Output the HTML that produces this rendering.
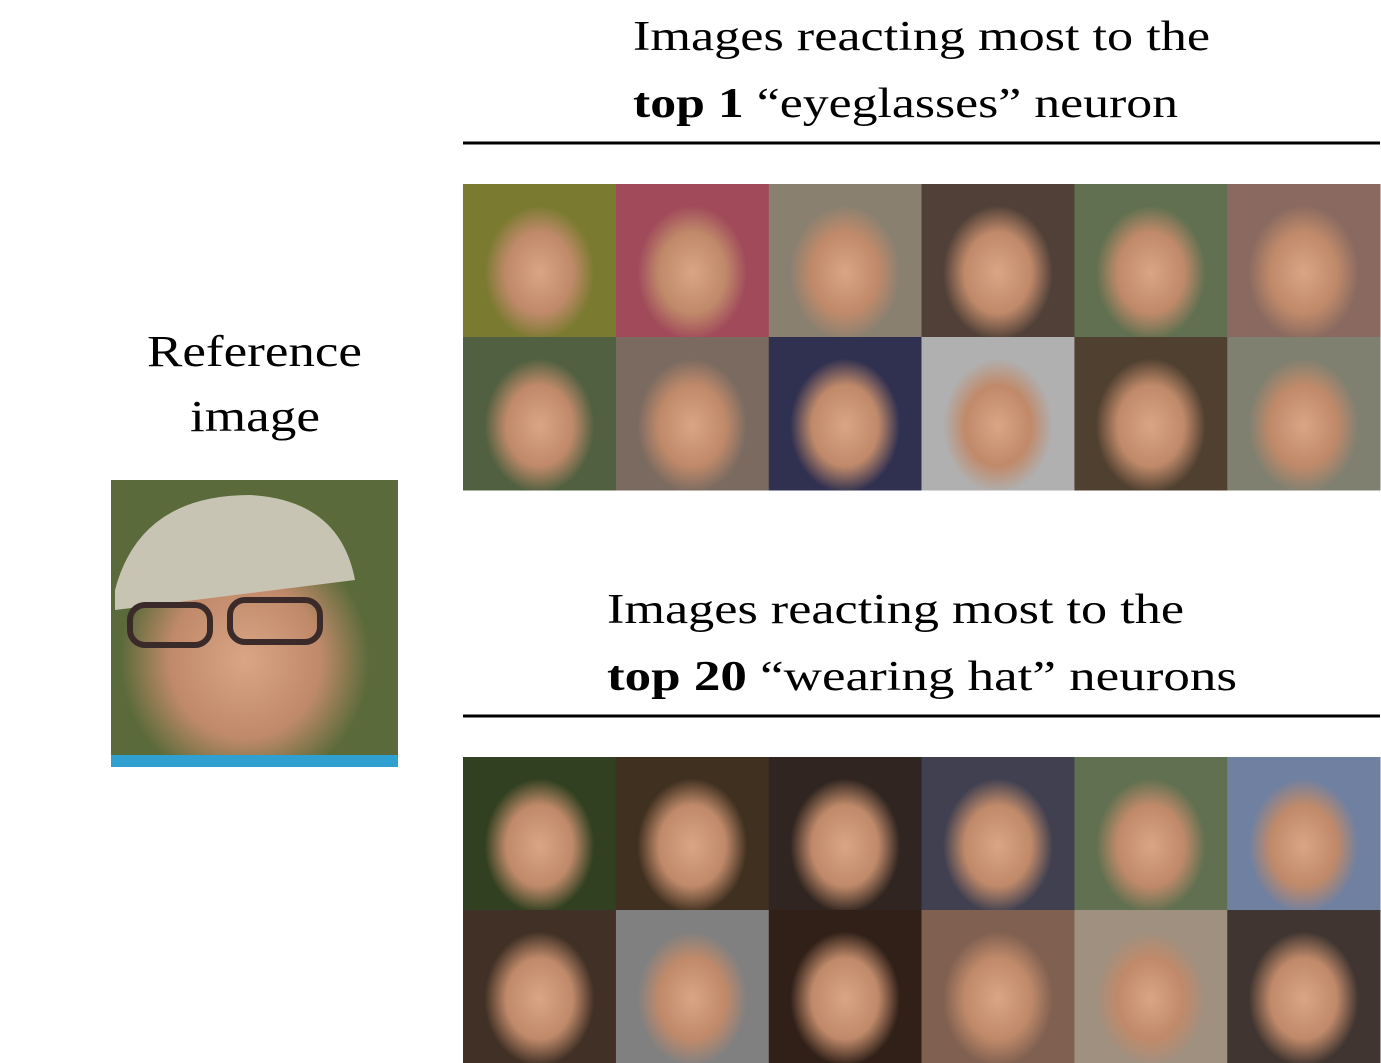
<!DOCTYPE html>
<html><head><meta charset="utf-8"><style>
html,body{margin:0;padding:0;background:#fff;}
svg{display:block}
text{font-family:"Liberation Serif",serif;fill:#000;}
</style></head><body>
<svg width="1381" height="1063" viewBox="0 0 1381 1063">
<defs>
<radialGradient id="face" cx="0.5" cy="0.5" r="0.5">
<stop offset="0" stop-color="#d9a585"/><stop offset="0.6" stop-color="#c08a6a"/><stop offset="1" stop-color="#c08a6a" stop-opacity="0"/>
</radialGradient>
<clipPath id="refclip"><rect x="111" y="480" width="287" height="287"/></clipPath>
</defs>
<text x="147" y="366" font-size="44" textLength="215" lengthAdjust="spacingAndGlyphs">Reference</text>
<text x="190" y="431" font-size="44" textLength="130" lengthAdjust="spacingAndGlyphs">image</text>
<g clip-path="url(#refclip)">
<rect x="111" y="480" width="287" height="287" fill="#5a6a3a"/>
<ellipse cx="245" cy="660" rx="125" ry="130" fill="url(#face)"/>
<path d="M115 590 Q140 495 250 495 Q340 500 355 580 L115 610 Z" fill="#c8c4b4"/>
<rect x="130" y="605" width="80" height="40" rx="15" fill="none" stroke="#3a2a2a" stroke-width="6"/>
<rect x="230" y="600" width="90" height="42" rx="15" fill="none" stroke="#3a2a2a" stroke-width="6"/>
<rect x="111" y="755" width="287" height="12" fill="#30a0d0"/>
</g>
<text x="633" y="50" font-size="42" textLength="577" lengthAdjust="spacingAndGlyphs">Images reacting most to the</text>
<text x="633" y="117" font-size="42" textLength="545" lengthAdjust="spacingAndGlyphs"><tspan font-weight="bold">top 1</tspan> “eyeglasses” neuron</text>
<line x1="463" y1="143" x2="1380" y2="143" stroke="#000" stroke-width="3"/>
<text x="607" y="623" font-size="42" textLength="577" lengthAdjust="spacingAndGlyphs">Images reacting most to the</text>
<text x="607" y="690" font-size="42" textLength="630" lengthAdjust="spacingAndGlyphs"><tspan font-weight="bold">top 20</tspan> “wearing hat” neurons</text>
<line x1="463" y1="716" x2="1380" y2="716" stroke="#000" stroke-width="3"/>
<g id="grids"></g>
</svg>
<script>
const grid1Colors = ["#7a7a30","#a04a5a","#8a8070","#504038","#607050","#8a6a60","#506040","#7a6a60","#303050","#b0b0b0","#504030","#808070"];
const grid2Colors = ["#304020","#403020","#302520","#404050","#607050","#7080a0","#403025","#808080","#302018","#806050","#a09080","#403530"];
const g = document.getElementById('grids');
const NS = "http://www.w3.org/2000/svg";
function drawGrid(colors, top, name){
  const w = 917/6, h = 153;
  colors.forEach((c,i)=>{
    const col=i%6,row=Math.floor(i/6);
    const x=463+col*w, y=top+row*h;
    const grp=document.createElementNS(NS,'svg');
    
    
    grp.setAttribute('x',x);grp.setAttribute('y',y);grp.setAttribute('width',w+0.5);grp.setAttribute('height',h+0.5);
    grp.setAttribute('overflow','hidden');
    const r=document.createElementNS(NS,'rect');
    r.setAttribute('x',0);r.setAttribute('y',0);r.setAttribute('width',w+0.5);r.setAttribute('height',h+0.5);r.setAttribute('fill',c);
    const e=document.createElementNS(NS,'ellipse');
    e.setAttribute('cx',w/2);e.setAttribute('cy',h*0.58);e.setAttribute('rx',w*0.36);e.setAttribute('ry',h*0.44);e.setAttribute('fill','url(#face)');
    grp.appendChild(r);grp.appendChild(e);g.appendChild(grp);
  });
}
drawGrid(grid1Colors,184,'eyeglasses-grid');
drawGrid(grid2Colors,757,'hat-grid');
</script>
</body></html>
